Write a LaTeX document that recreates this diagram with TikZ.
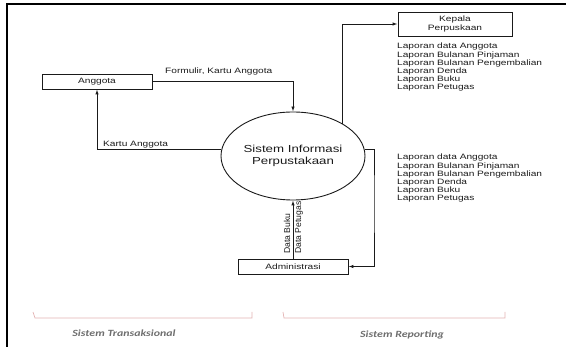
\documentclass[tikz,border=0pt]{standalone}
\usepackage{fontspec}
\setmainfont{Liberation Sans}
\newfontfamily\wfont[FakeStretch=1.3]{Liberation Sans}
\newfontfamily\cfont[FakeStretch=1.25]{Carlito}
\usetikzlibrary{arrows.meta,shapes.geometric}
\definecolor{brk}{HTML}{E3B3B3}
\definecolor{lbl}{HTML}{6E6E6E}
\definecolor{ink}{HTML}{1A1A1A}
\begin{document}
\begin{tikzpicture}[x=1pt,y=-1pt,
  box/.style={draw=ink,line width=0.9pt,inner sep=0pt,minimum height=15pt,font=\wfont\fontsize{7.8}{8.6}\selectfont,align=center,text=ink},
  flow/.style={draw=ink,line width=0.9pt,-{Latex[length=5pt,width=3.5pt]}},
  txt/.style={inner sep=0pt,text=ink,font=\wfont\fontsize{7.8}{8.2}\selectfont,align=left},
  brkline/.style={draw=brk,line width=0.7pt},
  brklabel/.style={inner sep=0pt,text=lbl,font=\cfont\bfseries\itshape\fontsize{9.5}{11}\selectfont}]
\useasboundingbox (0,0) rectangle (566,347);
% frame
\draw[line width=2pt] (7,347) -- (7,4) -- (566,4);
% nodes
\node[box,minimum width=114pt,minimum height=24pt] (kepala) at (455,24) {Kepala\\Perpuskaan};
\node[box,minimum width=110pt] (anggota) at (97,81.5) {Anggota};
\node[box,minimum width=110pt] (admin) at (293,266.5) {Administrasi};
\node[draw=ink,ellipse,line width=0.9pt,minimum width=144pt,minimum height=88pt,inner sep=0pt,text=ink,
      font=\wfont\fontsize{10.2}{12}\selectfont,align=center] (sys) at (293,156) {Sistem Informasi\\Perpustakaan};
% connectors
\draw[flow] (anggota.east) -| (sys.north);
\draw[flow] (sys.175) -| (anggota.south);
\draw[flow] (sys.33) |- (kepala.west);
\coordinate (rc) at (374,200);
\draw[flow] (sys.5) -| (rc) |- (admin.east);
\draw[flow] (admin.north) -- (sys.south);
% labels
\node[txt,anchor=west] (l1) at (165,71) {Formulir, Kartu Anggota};
\node[txt,anchor=west] (l2) at (103,145) {Kartu Anggota};
\node[txt,anchor=north west] (rep1) at (397,43) {Laporan data Anggota\\Laporan Bulanan Pinjaman\\Laporan Bulanan Pengembalian\\Laporan Denda\\Laporan Buku\\Laporan Petugas};
\node[txt,anchor=north west] (rep2) at (397,154) {Laporan data Anggota\\Laporan Bulanan Pinjaman\\Laporan Bulanan Pengembalian\\Laporan Denda\\Laporan Buku\\Laporan Petugas};
\node[inner sep=0pt,text=ink,font=\fontsize{8.6}{9}\selectfont,rotate=90,anchor=west] (db) at (287,254) {Data Buku};
\node[inner sep=0pt,text=ink,font=\fontsize{8.6}{9}\selectfont,rotate=90,anchor=west] (dp) at (299,254) {Data Petugas};
% brackets
\draw[brkline] (33,312) -- (35,318) -- (252,318) -- (252,312);
\draw[brkline] (283,312) -- (284,318) -- (505,318) -- (505,312);
\node[brklabel] (st) at (124,333) {Sistem Transaksional};
\node[brklabel] (sr) at (402,335) {Sistem Reporting};
\end{tikzpicture}
\end{document}
